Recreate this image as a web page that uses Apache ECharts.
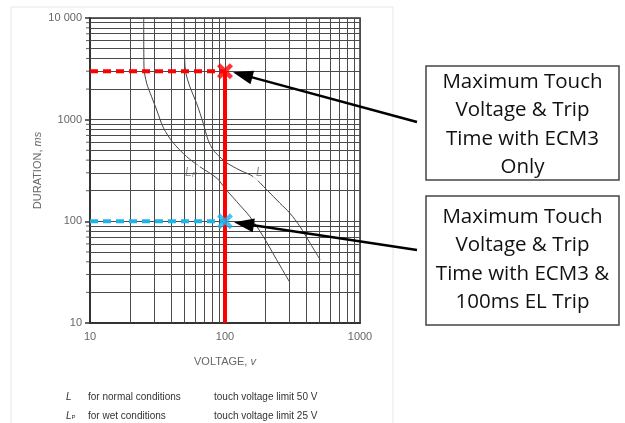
<!DOCTYPE html>
<html>
<head>
<meta charset="utf-8">
<script src="https://cdn.jsdelivr.net/npm/echarts@6/dist/echarts.min.js"></script>
<style>html,body{margin:0;padding:0;background:#fff}#c{width:625px;height:423px}</style>
</head>
<body>
<div id="c"></div>
<script>
// ---- data ----
const xMinor = [20,30,40,50,60,70,80,90,200,300,400,500,600,700,800,900];
const yMinor = [20,30,40,50,60,70,80,90,200,300,400,500,600,700,800,900,2000,3000,4000,5000,6000,7000,8000,9000];
const curveL = [[50,10000],[50.2,4500],[51,3000],[55,2100],[61.6,1450],[69,920],[75,630],[82,500],[90,440],[100,385],[115,345],[129,318],[162,275],[204,204],[255,151],[303,120],[359,89],[427,61],[506,42]];
const curveLp = [[25,10000],[25.1,3300],[26.3,2280],[28.6,1680],[31.2,1245],[35,830],[41,600],[52,433],[65,345],[87,266],[100,211],[115,171],[129,144],[153,111],[192,71],[241,42],[300,25.5]];
const ecm3Point = [100, 3000];
const elTripPoint = [100, 100];
const xStart = 10, yBottom = 10;
const labelPts = [{name:'L', p:'', v:[180,300]},{name:'L', p:'P', v:[56,300]}];
const box1Lines = ['Maximum Touch','Voltage & Trip','Time with ECM3','Only'];
const box2Lines = ['Maximum Touch','Voltage & Trip','Time with ECM3 &','100ms EL Trip'];
const legendRows = [['L','','for normal conditions','touch voltage limit 50 V'],['L','P','for wet conditions','touch voltage limit 25 V']];

const chart = echarts.init(document.getElementById('c'), null, {renderer:'canvas'});
const gridCol = '#4a4a4a';
const crossPath = 'path://M0,2L2,0L5,3L8,0L10,2L7,5L10,8L8,10L5,7L2,10L0,8L3,5Z';

const option = {
  animation: false,
  backgroundColor: '#fff',
  grid: {left: 90, top: 18, width: 270, height: 305, show: true, borderColor: '#333', borderWidth: 1.5, outerBoundsMode: 'none'},
  xAxis: {
    type: 'log', logBase: 10, min: 10, max: 1000,
    axisLine: {show: true, lineStyle: {color: '#333', width: 2}},
    axisTick: {show: false},
    splitLine: {show: true, lineStyle: {color: gridCol, width: 1}},
    axisLabel: {color: '#666', fontSize: 11, fontFamily: 'Liberation Sans', margin: 8, formatter: v => String(v)},
    name: '{a|VOLTAGE, }{b|v}', nameLocation: 'middle', nameGap: 33,
    nameTextStyle: {rich: {a: {color: '#666', fontSize: 11, fontFamily: 'Liberation Sans'}, b: {color: '#666', fontSize: 11, fontStyle: 'italic', fontFamily: 'Liberation Sans'}}}
  },
  yAxis: {
    type: 'log', logBase: 10, min: 10, max: 10000,
    axisLine: {show: true, lineStyle: {color: '#333', width: 2}},
    axisTick: {show: true, length: 5, lineStyle: {color: '#333', width: 1.5}},
    splitLine: {show: true, lineStyle: {color: gridCol, width: 1}},
    axisLabel: {color: '#666', fontSize: 11, fontFamily: 'Liberation Sans', margin: 8,
      formatter: v => v >= 10000 ? '10 000' : String(v)},
    name: '{a|DURATION, }{b|ms}', nameLocation: 'middle', nameGap: 47, nameRotate: 90,
    nameTextStyle: {rich: {a: {color: '#666', fontSize: 11, fontFamily: 'Liberation Sans'}, b: {color: '#666', fontSize: 11, fontStyle: 'italic', fontFamily: 'Liberation Sans'}}}
  },
  series: [
    {
      type: 'line', data: [], silent: true,
      markLine: {
        silent: true, symbol: ['none','none'], label: {show: false}, animation: false,
        lineStyle: {type: 'solid', color: gridCol, width: 1},
        data: xMinor.map(v => ({xAxis: v})).concat(yMinor.map(v => ({yAxis: v})))
      }
    },
    {
      type: 'scatter', data: yMinor.map(v => [xStart, v]), clip: false, silent: true,
      symbol: 'rect', symbolSize: [4, 1], symbolOffset: [-2, 0], itemStyle: {color: '#333'}
    },
    {type: 'line', data: curveL, smooth: 0.3, symbol: 'none', lineStyle: {color: '#444', width: 1}, silent: true},
    {type: 'line', data: curveLp, smooth: 0.3, symbol: 'none', lineStyle: {color: '#444', width: 1}, silent: true},
    {
      type: 'scatter', data: labelPts.map(d => ({value: d.v, p: d.p})), symbol: 'rect', symbolSize: 1,
      itemStyle: {color: 'rgba(0,0,0,0)'}, silent: true, z: 4,
      label: {show: true, position: 'inside', backgroundColor: '#ffffff', padding: [2, 3], color: '#777',
        fontSize: 12, fontStyle: 'italic', fontFamily: 'Liberation Sans',
        formatter: prm => prm.data.p ? '{a|L}{b|P}' : '{a|L}',
        rich: {a: {color: '#777', fontSize: 12, fontStyle: 'italic', fontFamily: 'Liberation Sans'},
               b: {color: '#777', fontSize: 8, fontFamily: 'Liberation Sans', verticalAlign: 'bottom'}}}
    },
    {type: 'line', data: [[xStart, ecm3Point[1]], ecm3Point], symbol: 'none', lineStyle: {color: '#ff0000', width: 4, type: [8, 5]}, silent: true, z: 5},
    {type: 'line', data: [[ecm3Point[0], yBottom], ecm3Point], symbol: 'none', lineStyle: {color: '#ff0000', width: 4}, silent: true, clip: false, z: 5},
    {type: 'line', data: [[xStart, elTripPoint[1]], elTripPoint], symbol: 'none', lineStyle: {color: '#1eb4ea', width: 4, type: [8, 5]}, silent: true, z: 5},
    {type: 'scatter', data: [ecm3Point], symbol: crossPath, symbolSize: 16, itemStyle: {color: '#ff0000'}, silent: true, z: 6},
    {type: 'scatter', data: [elTripPoint], symbol: crossPath, symbolSize: 16, itemStyle: {color: '#1eb4ea'}, silent: true, z: 6}
  ]
};
chart.setOption(option);

function arrow(tip, tail) {
  const dx = tail[0] - tip[0], dy = tail[1] - tip[1];
  const len = Math.hypot(dx, dy);
  const ux = dx / len, uy = dy / len;
  const hl = 20, hw = 7;
  const bx = tip[0] + ux * hl, by = tip[1] + uy * hl;
  return [
    {type: 'line', shape: {x1: bx - ux * 2, y1: by - uy * 2, x2: tail[0], y2: tail[1]}, style: {stroke: '#000', lineWidth: 2.5}, z: 10},
    {type: 'polygon', shape: {points: [[tip[0], tip[1]], [bx - uy * hw, by + ux * hw], [bx + uy * hw, by - ux * hw]]}, style: {fill: '#000'}, z: 10}
  ];
}
function box(x, y, w, h, lines, firstY) {
  const els = [{type: 'rect', shape: {x: x, y: y, width: w, height: h}, style: {fill: '#fff', stroke: '#444', lineWidth: 1.5}, z: 10}];
  lines.forEach((t, i) => els.push({type: 'text', style: {text: t, x: x + w / 2, y: firstY + i * 28.5, align: 'center', verticalAlign: 'middle', font: '20.5px "Open Sans"', fill: '#111'}, z: 11}));
  return els;
}
const p1 = chart.convertToPixel({gridIndex: 0}, ecm3Point);
const p2 = chart.convertToPixel({gridIndex: 0}, elTripPoint);
let g = [
  {type: 'line', shape: {x1: 11, y1: 7, x2: 393, y2: 7}, style: {stroke: '#e6e6e6', lineWidth: 1}},
  {type: 'line', shape: {x1: 11, y1: 7, x2: 11, y2: 423}, style: {stroke: '#e6e6e6', lineWidth: 1}},
  {type: 'line', shape: {x1: 393, y1: 7, x2: 393, y2: 423}, style: {stroke: '#e6e6e6', lineWidth: 1}}
];
g = g.concat(arrow([p1[0] + 8, p1[1] + 1], [417, 122]));
g = g.concat(arrow([p2[0] + 9, p2[1] + 1], [417, 250]));
g = g.concat(box(426, 66, 193, 114, box1Lines, 82));
g = g.concat(box(426, 196, 193, 129, box2Lines, 217));
legendRows.forEach((r, i) => {
  const y = 397 + i * 19;
  g.push({type: 'text', style: {text: '{a|' + r[0] + '}' + (r[1] ? '{b|' + r[1] + '}' : ''), x: 66, y: y, verticalAlign: 'middle',
    rich: {a: {fontSize: 10, fontStyle: 'italic', fontFamily: 'Liberation Sans', fill: '#333'}, b: {fontSize: 6, fontFamily: 'Liberation Sans', fill: '#333', padding: [3,0,0,0]}}}});
  g.push({type: 'text', style: {text: r[2], x: 88, y: y, verticalAlign: 'middle', font: '10px "Liberation Sans"', fill: '#333'}});
  g.push({type: 'text', style: {text: r[3], x: 214, y: y, verticalAlign: 'middle', font: '10px "Liberation Sans"', fill: '#333'}});
});
chart.setOption({graphic: {elements: g}});
</script>
</body>
</html>
